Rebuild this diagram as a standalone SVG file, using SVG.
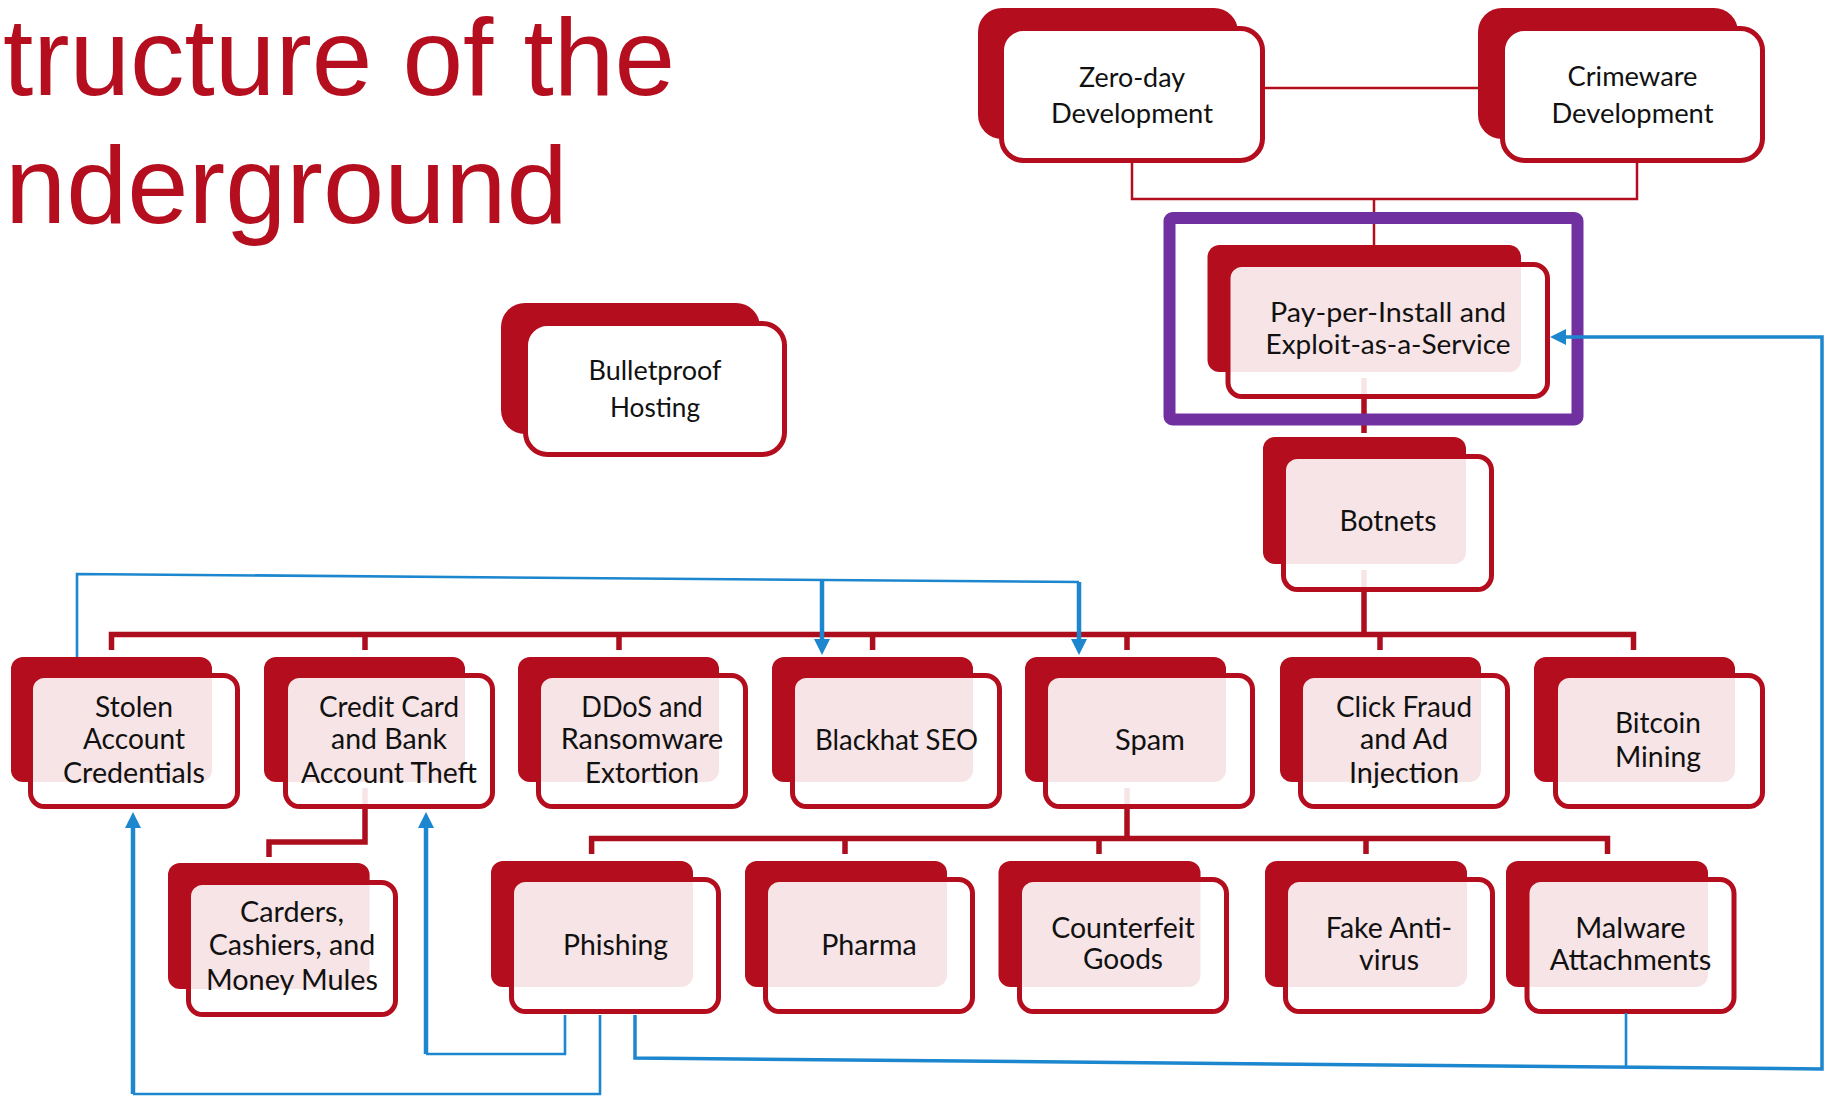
<svg xmlns="http://www.w3.org/2000/svg" width="1828" height="1096" viewBox="0 0 1828 1096">
  <defs>
    <style>
      .title { font-family: "Liberation Sans", Arial, sans-serif; font-size: 110px; fill: #B50E1F; }
      .back { fill: #B30D1E; }
      .front { fill: #FFFFFF; fill-opacity: 0.89; stroke: #B30D1E; stroke-width: 5; }
      .front.solid { fill-opacity: 1; }
      .lbl { font-family: Lato, "Noto Sans", sans-serif; font-size: 28px; fill: #111111; text-anchor: middle; }
      .lbl.sm { font-size: 26px; }
      .wire { fill: none; stroke: #B30D1E; stroke-width: 2.5; }
      .bus { fill: none; stroke: #AC0E1E; stroke-width: 5.5; stroke-linejoin: miter; }
      .flow { fill: none; stroke: #1C86CE; stroke-width: 2.6; stroke-linejoin: miter; }
      .flow.heavy { stroke-width: 3.5; }
      .shaft { fill: none; stroke: #1C86CE; stroke-width: 4.5; }
      .purple { fill: none; stroke: #7030A0; stroke-width: 12; }
    </style>
    <marker id="arrow" markerUnits="userSpaceOnUse" markerWidth="16" markerHeight="16" refX="4" refY="8" orient="auto">
      <path d="M0,0 L16,8 L0,16 Z" fill="#1C86CE"/>
    </marker>
  </defs>

  <rect width="1828" height="1096" fill="#FFFFFF"/>

  <!-- title -->
  <text class="title" x="3" y="95" textLength="672" lengthAdjust="spacingAndGlyphs">tructure of the</text>
  <text class="title" x="5" y="223">nderground</text>

  <!-- tree connectors -->
  <g id="connectors">
    <path class="wire" d="M1265,88 H1478"/>
    <path class="wire" d="M1132,163 V199 H1637 V163"/>
    <path class="wire" d="M1374,199 V245"/>
    <path class="bus" d="M1364,378 V433"/>
    <path class="bus" d="M1364,570 V634.5"/>
    <path class="bus" d="M111.5,650 V634.5 H1633.5 V650"/>
    <path class="bus" d="M365,634.5 V650 M619,634.5 V650 M872.6,634.5 V650 M1127,634.5 V650 M1380,634.5 V650"/>
    <path class="bus" stroke-width="5" d="M365,788 V842 H269 V857"/>
    <path class="bus" stroke-width="5" d="M1127,788 V838.5"/>
    <path class="bus" stroke-width="5" d="M591.6,854 V838.5 H1607.5 V854"/>
    <path class="bus" stroke-width="5" d="M845,838.5 V854 M1099,838.5 V854 M1366,838.5 V854"/>
  </g>

  <!-- nodes -->
  <g id="zero-day">
    <rect class="back" x="978" y="8" width="260" height="131" rx="24"/>
    <rect class="front solid" x="1001.5" y="28.5" width="261" height="132" rx="22"/>
    <text class="lbl sm" x="1132" y="87" textLength="106" lengthAdjust="spacingAndGlyphs">Zero-day</text>
    <text class="lbl sm" x="1132" y="123" textLength="162" lengthAdjust="spacingAndGlyphs">Development</text>
  </g>
  <g id="crimeware">
    <rect class="back" x="1478" y="8" width="260" height="131" rx="24"/>
    <rect class="front solid" x="1502.5" y="28.5" width="260" height="132" rx="22"/>
    <text class="lbl sm" x="1632.5" y="86" textLength="130" lengthAdjust="spacingAndGlyphs">Crimeware</text>
    <text class="lbl sm" x="1632.5" y="123" textLength="162" lengthAdjust="spacingAndGlyphs">Development</text>
  </g>
  <g id="bulletproof">
    <rect class="back" x="501" y="303" width="259" height="131" rx="24"/>
    <rect class="front solid" x="525.5" y="323.5" width="259" height="131" rx="22"/>
    <text class="lbl sm" x="655" y="380" textLength="133" lengthAdjust="spacingAndGlyphs">Bulletproof</text>
    <text class="lbl sm" x="655" y="417" textLength="90" lengthAdjust="spacingAndGlyphs">Hosting</text>
  </g>
  <g id="pay-per-install">
    <rect class="back" x="1207.5" y="245" width="313.5" height="127" rx="12"/>
    <rect class="front" x="1228" y="264.5" width="319.5" height="132" rx="14"/>
    <text class="lbl sm" x="1388" y="322" textLength="236" lengthAdjust="spacingAndGlyphs">Pay-per-Install and</text>
    <text class="lbl sm" x="1388" y="354" textLength="245" lengthAdjust="spacingAndGlyphs">Exploit-as-a-Service</text>
  </g>
  <g id="botnets">
    <rect class="back" x="1263" y="437" width="203" height="127" rx="12"/>
    <rect class="front" x="1283.5" y="456.5" width="208" height="133" rx="14"/>
    <text class="lbl" x="1388" y="531" textLength="97" lengthAdjust="spacingAndGlyphs">Botnets</text>
  </g>

  <g id="stolen-credentials">
    <rect class="back" x="11" y="657" width="201" height="125" rx="12"/>
    <rect class="front" x="30.5" y="675.5" width="207" height="131" rx="14"/>
    <text class="lbl" x="134" y="717" textLength="78" lengthAdjust="spacingAndGlyphs">Stolen</text>
    <text class="lbl" x="134" y="749" textLength="102" lengthAdjust="spacingAndGlyphs">Account</text>
    <text class="lbl" x="134" y="783" textLength="142" lengthAdjust="spacingAndGlyphs">Credentials</text>
  </g>
  <g id="credit-card-theft">
    <rect class="back" x="264" y="657" width="201" height="125" rx="12"/>
    <rect class="front" x="285.5" y="675.5" width="207" height="131" rx="14"/>
    <text class="lbl" x="389" y="717" textLength="140" lengthAdjust="spacingAndGlyphs">Credit Card</text>
    <text class="lbl" x="389" y="749" textLength="116" lengthAdjust="spacingAndGlyphs">and Bank</text>
    <text class="lbl" x="389" y="783" textLength="176" lengthAdjust="spacingAndGlyphs">Account Theft</text>
  </g>
  <g id="ddos-extortion">
    <rect class="back" x="518" y="657" width="201" height="125" rx="12"/>
    <rect class="front" x="538.5" y="675.5" width="207" height="131" rx="14"/>
    <text class="lbl" x="642" y="717" textLength="121.5" lengthAdjust="spacingAndGlyphs">DDoS and</text>
    <text class="lbl" x="642" y="749" textLength="162.5" lengthAdjust="spacingAndGlyphs">Ransomware</text>
    <text class="lbl" x="642" y="783" textLength="114" lengthAdjust="spacingAndGlyphs">Extortion</text>
  </g>
  <g id="blackhat-seo">
    <rect class="back" x="772" y="657" width="201" height="125" rx="12"/>
    <rect class="front" x="792.5" y="675.5" width="207" height="131" rx="14"/>
    <text class="lbl" x="896.5" y="750" textLength="163" lengthAdjust="spacingAndGlyphs">Blackhat SEO</text>
  </g>
  <g id="spam">
    <rect class="back" x="1025" y="657" width="201" height="125" rx="12"/>
    <rect class="front" x="1045.5" y="675.5" width="207" height="131" rx="14"/>
    <text class="lbl" x="1150" y="750" textLength="70" lengthAdjust="spacingAndGlyphs">Spam</text>
  </g>
  <g id="click-fraud">
    <rect class="back" x="1280" y="657" width="201" height="125" rx="12"/>
    <rect class="front" x="1300.5" y="675.5" width="207" height="131" rx="14"/>
    <text class="lbl" x="1404" y="717" textLength="136" lengthAdjust="spacingAndGlyphs">Click Fraud</text>
    <text class="lbl" x="1404" y="749" textLength="88" lengthAdjust="spacingAndGlyphs">and Ad</text>
    <text class="lbl" x="1404" y="783" textLength="110" lengthAdjust="spacingAndGlyphs">Injection</text>
  </g>
  <g id="bitcoin-mining">
    <rect class="back" x="1534" y="657" width="201" height="125" rx="12"/>
    <rect class="front" x="1555.5" y="675.5" width="207" height="131" rx="14"/>
    <text class="lbl" x="1658" y="733" textLength="86" lengthAdjust="spacingAndGlyphs">Bitcoin</text>
    <text class="lbl" x="1658" y="767" textLength="86" lengthAdjust="spacingAndGlyphs">Mining</text>
  </g>

  <g id="carders">
    <rect class="back" x="168" y="863" width="201.6" height="126" rx="12"/>
    <rect class="front" x="188.5" y="882.5" width="207" height="132" rx="14"/>
    <text class="lbl" x="292" y="922" textLength="104" lengthAdjust="spacingAndGlyphs">Carders,</text>
    <text class="lbl" x="292" y="955" textLength="166.5" lengthAdjust="spacingAndGlyphs">Cashiers, and</text>
    <text class="lbl" x="292" y="990" textLength="172" lengthAdjust="spacingAndGlyphs">Money Mules</text>
  </g>
  <g id="phishing">
    <rect class="back" x="491" y="861" width="202" height="126" rx="12"/>
    <rect class="front" x="511.5" y="879.5" width="207" height="132" rx="14"/>
    <text class="lbl" x="615.5" y="955" textLength="105" lengthAdjust="spacingAndGlyphs">Phishing</text>
  </g>
  <g id="pharma">
    <rect class="back" x="745" y="861" width="202" height="126" rx="12"/>
    <rect class="front" x="765.5" y="879.5" width="207" height="132" rx="14"/>
    <text class="lbl" x="869" y="955" textLength="95.5" lengthAdjust="spacingAndGlyphs">Pharma</text>
  </g>
  <g id="counterfeit-goods">
    <rect class="back" x="998.5" y="861" width="202" height="126" rx="12"/>
    <rect class="front" x="1019.5" y="879.5" width="207" height="132" rx="14"/>
    <text class="lbl" x="1123" y="938" textLength="143.5" lengthAdjust="spacingAndGlyphs">Counterfeit</text>
    <text class="lbl" x="1123" y="969" textLength="80" lengthAdjust="spacingAndGlyphs">Goods</text>
  </g>
  <g id="fake-antivirus">
    <rect class="back" x="1265" y="861" width="202" height="126" rx="12"/>
    <rect class="front" x="1285.5" y="879.5" width="207" height="132" rx="14"/>
    <text class="lbl" x="1389" y="938" textLength="126.4" lengthAdjust="spacingAndGlyphs">Fake Anti-</text>
    <text class="lbl" x="1389" y="970" textLength="60" lengthAdjust="spacingAndGlyphs">virus</text>
  </g>
  <g id="malware-attachments">
    <rect class="back" x="1506" y="861" width="202" height="126" rx="12"/>
    <rect class="front" x="1527" y="879.5" width="207" height="132" rx="14"/>
    <text class="lbl" x="1630.5" y="938" textLength="110.5" lengthAdjust="spacingAndGlyphs">Malware</text>
    <text class="lbl" x="1630.5" y="970" textLength="161.5" lengthAdjust="spacingAndGlyphs">Attachments</text>
  </g>

  <!-- highlight frame around the service tier -->
  <rect id="highlight" class="purple" x="1169.5" y="218" width="408" height="201.5" rx="3"/>

  <!-- money / resource flows -->
  <g id="flows">
    <path class="flow" d="M77,657 V574 L1079,582"/>
    <path class="shaft" d="M1079,582 V643" marker-end="url(#arrow)"/>
    <path class="shaft" d="M822,580 V643" marker-end="url(#arrow)"/>
    <path class="flow" d="M565,1015 V1054 H426"/>
    <path class="shaft" d="M426,1054 V824" marker-end="url(#arrow)"/>
    <path class="flow" d="M600,1015 V1094 H133"/>
    <path class="shaft" d="M133,1094 V824" marker-end="url(#arrow)"/>
    <path class="flow heavy" d="M635,1015 V1058 L1822,1069 V337 H1562" marker-end="url(#arrow)"/>
    <path class="flow" d="M1626,1013 V1067"/>
  </g>
</svg>
